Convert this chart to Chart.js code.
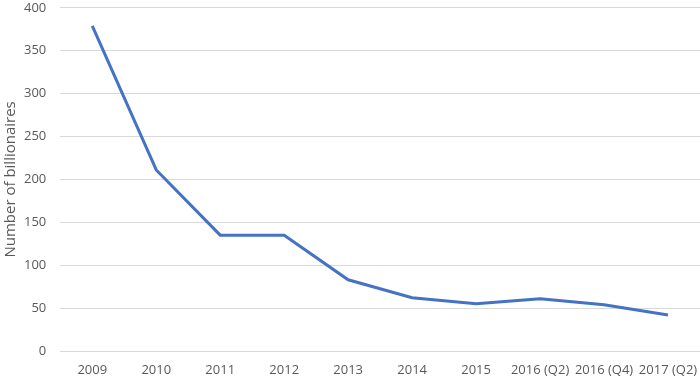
<!DOCTYPE html>
<html><head><meta charset="utf-8">
<script src="https://cdn.jsdelivr.net/npm/chart.js@4"></script>
<style>html,body{margin:0;padding:0;background:#fff;overflow:hidden}canvas{display:block}</style>
</head><body><canvas id="c" width="700" height="379"></canvas>
<script>
const categories = ["2009","2010","2011","2012","2013","2014","2015","2016 (Q2)","2016 (Q4)","2017 (Q2)"];
const billionaires = [379, 211, 135, 135, 83, 62, 55, 61, 54, 42];
const yTitle = "Number of billionaires";
new Chart(document.getElementById('c'), {
  type: 'line',
  data: { labels: categories, datasets: [{ data: billionaires, borderColor: '#4472C4', borderWidth: 3, pointRadius: 0, tension: 0, fill: false }] },
  options: {
    responsive: false, animation: false, devicePixelRatio: 1,
    layout: { padding: { top: 0, right: 0, bottom: 0, left: 0 } },
    plugins: { legend: { display: false }, tooltip: { enabled: false } },
    scales: {
      x: { offset: true, grid: { display: false, drawTicks: false }, border: { display: false },
           ticks: { color: '#595959', font: { family: 'Open Sans', size: 13 }, padding: 11, maxRotation: 0, autoSkip: false },
           afterFit: (s) => { s.height = 28; s.paddingRight = 0; s.paddingLeft = 0; } },
      y: { min: 0, max: 400, ticks: { stepSize: 50, color: '#595959', font: { family: 'Open Sans', size: 13 }, padding: 0 },
           grid: { color: '#d9d9d9', lineWidth: 1, drawTicks: true, tickLength: 14, tickColor: 'rgba(0,0,0,0)' }, border: { display: false },
           title: { display: true, text: yTitle, color: '#595959', font: { family: 'Open Sans', size: 15 }, padding: { top: 2, bottom: 4 } } }
    }
  }
});
</script></body></html>
